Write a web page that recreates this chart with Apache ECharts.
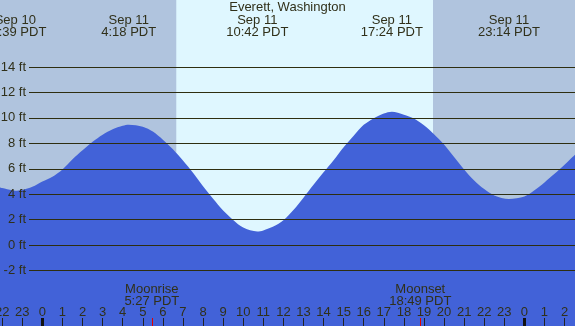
<!DOCTYPE html>
<html>
<head>
<meta charset="utf-8">
<script src="https://cdn.jsdelivr.net/npm/echarts@6.0.0/dist/echarts.min.js"></script>
<style>
  html, body { margin: 0; padding: 0; }
  #chart { width: 575px; height: 326px; }
</style>
</head>
<body>
<div id="chart"></div>
<script>
// hours are counted from Sep 11 00:00 PDT (negative = Sep 10)
const tideHours = [-2.11, -2, -1.5, -1.35, -1, -0.5, 0, 0.5, 1, 1.5, 2, 2.5, 3, 3.5, 4, 4.3,
  5, 5.5, 6, 6.5, 7, 7.5, 8, 8.5, 9, 9.5, 10, 10.7, 11, 11.5, 12, 12.5, 13, 13.5, 14, 14.5,
  15, 15.5, 16, 16.5, 17, 17.4, 18, 18.5, 19, 19.5, 20, 20.5, 21, 21.5, 22, 22.5, 23.233,
  24, 24.5, 25, 25.5, 26, 26.52];
const tideFeet = [4.53, 4.48, 4.3, 4.27, 4.33, 4.58, 5.0, 5.38, 5.95, 6.75, 7.45, 8.12, 8.68, 9.1, 9.38, 9.46,
  9.3, 8.92, 8.28, 7.53, 6.65, 5.68, 4.62, 3.64, 2.72, 1.98, 1.38, 1.07, 1.15, 1.45, 1.95, 2.75, 3.72, 4.74, 5.72, 6.67,
  7.7, 8.6, 9.45, 9.98, 10.35, 10.49, 10.25, 9.95, 9.42, 8.72, 7.9, 6.92, 5.95, 5.08, 4.4, 3.9, 3.62,
  3.82, 4.3, 4.92, 5.6, 6.32, 7.1];

// high / low tide labels along the top
const extremeDates = ['Sep 10', 'Sep 11', 'Sep 11', 'Sep 11', 'Sep 11'];
const extremeTimes = ['22:39', '4:18', '10:42', '17:24', '23:14'];
const extremeDayOffset = [-24, 0, 0, 0, 0];

const moonNames = ['Moonrise', 'Moonset'];
const moonTimes = ['5:27', '18:49'];

const sunrise = '6:40';
const sunset = '19:27';

const hourTicks = [];
for (let h = -2; h <= 26; h++) hourTicks.push(h);
const midnightTicks = [0, 24];

const feetTicks = [-2, 0, 2, 4, 6, 8, 10, 12, 14];

const toHours = (t, offset) => {
  const [hh, mm] = t.split(':').map(Number);
  return hh + mm / 60 + (offset || 0);
};

const extremeHours = extremeTimes.map((t, i) => toHours(t, extremeDayOffset[i]));
const moonHours = moonTimes.map((t) => toHours(t));

const X_MIN = -2.11;
const X_MAX = 26.52;

// the labelled ft grid sits inside the full drawing area
const W = 575, H = 326;
const gridTop = 67, gridBottom = 270.5;
const pxPerFt = (gridBottom - gridTop) / (feetTicks[feetTicks.length - 1] - feetTicks[0]);
const Y_MAX = feetTicks[feetTicks.length - 1] + gridTop / pxPerFt;
const Y_MIN = feetTicks[0] - (H - gridBottom) / pxPerFt;

const textColor = '#30301a';
const font = 'Liberation Sans';
const fs = 13;

const findIdx = (list, v) => list.findIndex((x) => Math.abs(x - v) < 1e-6);

const noLine = { show: false, onZero: false };

const myChart = echarts.init(document.getElementById('chart'));
myChart.setOption({
  animation: false,
  backgroundColor: '#b0c4de',
  textStyle: { fontFamily: font },
  title: {
    text: 'Everett, Washington',
    left: 'center',
    top: 1,
    padding: 0,
    textStyle: { fontSize: fs, fontWeight: 'normal', color: textColor, fontFamily: font },
  },
  grid: [
    { left: 0, right: 0, top: 0, bottom: 0, outerBoundsMode: 'none', containLabel: false },
    { left: 29, right: 0, top: gridTop, bottom: H - gridBottom, outerBoundsMode: 'none', containLabel: false },
  ],
  xAxis: [
    {
      // hour ticks
      type: 'value', gridIndex: 0, min: X_MIN, max: X_MAX, position: 'bottom', z: 10,
      axisLine: noLine,
      splitLine: { show: false },
      axisTick: { inside: true, length: 8, customValues: hourTicks, lineStyle: { color: '#222', width: 1 } },
      axisLabel: {
        inside: true, margin: 8, fontSize: fs, lineHeight: 12, color: textColor,
        customValues: hourTicks,
        formatter: (v) => String(((v % 24) + 24) % 24),
      },
    },
    {
      // midnight ticks
      type: 'value', gridIndex: 0, min: X_MIN, max: X_MAX, position: 'bottom', z: 11,
      axisLine: noLine,
      splitLine: { show: false },
      axisLabel: { show: false },
      axisTick: { inside: true, length: 8, customValues: midnightTicks, lineStyle: { color: '#111', width: 3 } },
    },
    {
      // moonrise / moonset
      type: 'value', gridIndex: 0, min: X_MIN, max: X_MAX, position: 'bottom', z: 11,
      axisLine: noLine,
      splitLine: { show: false },
      axisTick: { inside: true, length: 8, customValues: moonHours, lineStyle: { color: '#e00000', width: 1 } },
      axisLabel: {
        inside: true, margin: 19, fontSize: fs, lineHeight: 12, color: textColor,
        customValues: moonHours,
        formatter: (v) => {
          const i = findIdx(moonHours, v);
          return moonNames[i] + '\n' + moonTimes[i] + ' PDT';
        },
      },
    },
    {
      // tide extremes at the top
      type: 'value', gridIndex: 0, min: X_MIN, max: X_MAX, position: 'top', z: 10,
      axisLine: noLine,
      splitLine: { show: false },
      axisTick: { show: false },
      axisLabel: {
        inside: true, margin: 14, fontSize: fs, lineHeight: 12, color: textColor,
        customValues: extremeHours,
        formatter: (v) => {
          const i = findIdx(extremeHours, v);
          return extremeDates[i] + '\n' + extremeTimes[i] + ' PDT';
        },
      },
    },
    { type: 'value', gridIndex: 1, min: 0, max: 1, show: false },
  ],
  yAxis: [
    { type: 'value', gridIndex: 0, min: Y_MIN, max: Y_MAX, show: false },
    {
      type: 'value', gridIndex: 1, min: -2, max: 14, interval: 2, z: 10,
      axisLine: noLine,
      axisTick: { show: false },
      axisLabel: { margin: 3, fontSize: fs, color: textColor, formatter: '{value} ft' },
      splitLine: { show: true, lineStyle: { color: '#2e2e10', width: 1 } },
    },
  ],
  series: [
    {
      type: 'line',
      xAxisIndex: 0,
      yAxisIndex: 0,
      data: tideHours.map((h, i) => [h, tideFeet[i]]),
      smooth: 0.3,
      symbol: 'none',
      lineStyle: { width: 0 },
      areaStyle: { color: '#4262d8', opacity: 1, origin: 'start' },
      markArea: {
        silent: true,
        itemStyle: { color: '#dff7ff' },
        data: [[{ xAxis: toHours(sunrise) }, { xAxis: toHours(sunset) }]],
      },
    },
  ],
});
</script>
</body>
</html>
